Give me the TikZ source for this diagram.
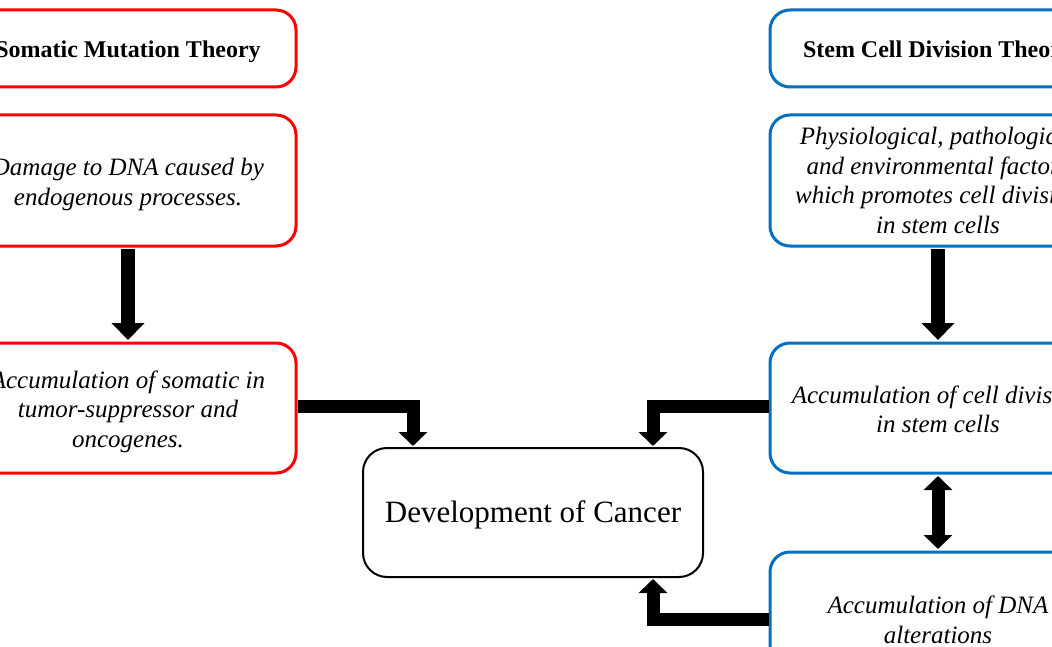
\documentclass[tikz,border=0pt]{standalone}
\usepackage{fontspec}
\setmainfont{Liberation Serif}
\usetikzlibrary{arrows.meta}
\definecolor{rbox}{RGB}{255,0,0}
\definecolor{bbox}{RGB}{0,112,192}
\newcommand{\lowr}[1]{\rule{0pt}{#1}}
\begin{document}
\begin{tikzpicture}[x=1pt,y=-1pt,
  boxbase/.style={rectangle,rounded corners=20pt,line width=3pt,align=center,inner sep=0pt,
     minimum width=336pt,font=\fontsize{25}{29.5}\selectfont\itshape},
  redbox/.style={boxbase,draw=rbox},
  bluebox/.style={boxbase,draw=bbox},
  titlefont/.style={font=\fontsize{24}{29}\selectfont\bfseries},
  centerbox/.style={rectangle,rounded corners=24pt,draw=black,line width=2pt,minimum width=340pt,
     minimum height=129pt,font=\fontsize{31}{37}\selectfont,inner sep=0pt},
  bigarrow/.style={line width=14pt,-{Triangle[width=32pt,length=17pt]}},
  elbowarrow/.style={line width=13pt,-{Triangle[width=28pt,length=14pt]}},
  dblarrow/.style={line width=13pt,{Triangle[width=28pt,length=14pt]}-{Triangle[width=28pt,length=14pt]}}
]
\useasboundingbox (0,0) rectangle (1052,647);
\clip (0,0) rectangle (1052,647);
\fill[white] (0,0) rectangle (1052,647);
% left column
\node[redbox,titlefont,minimum height=77pt] (rt) at (128,48.5) {\lowr{23pt}Somatic Mutation Theory};
\node[redbox,minimum height=131pt] (r2) at (128,180.5) {\lowr{25pt}Damage to DNA caused by\\endogenous processes.};
\node[redbox,minimum height=130pt] (r3) at (128,408) {\lowr{25pt}Accumulation of somatic in\\tumor-suppressor and\\oncogenes.};
% right column
\node[bluebox,titlefont,minimum height=77pt] (bt) at (938,48.5) {\lowr{23pt}Stem Cell Division Theory};
\node[bluebox,minimum height=131pt] (b2) at (938,180.5) {Physiological, pathological\\and environmental factors\\which promotes cell division\\in stem cells};
\node[bluebox,minimum height=130pt] (b3) at (938,408) {\lowr{20pt}Accumulation of cell division\\in stem cells};
\node[bluebox,minimum height=136pt] (b4) at (938,620) {Accumulation of DNA\\alterations};
% center
\node[centerbox] (c) at (533,512.5) {\lowr{26pt}Development of Cancer};
% connectors
\draw[bigarrow] ([yshift=-1.5pt]r2.south) -- ([yshift=1.5pt]r3.north);
\draw[bigarrow] ([yshift=-1.5pt]b2.south) -- ([yshift=1.5pt]b3.north);
\draw[dblarrow] ([yshift=-1.5pt]b3.south) -- ([yshift=1.5pt]b4.north);
\coordinate (cl) at ([xshift=-120pt,yshift=1pt]c.north);
\coordinate (cr) at ([xshift=120pt,yshift=1pt]c.north);
\coordinate (cb) at ([xshift=120pt,yshift=-1pt]c.south);
\draw[elbowarrow] (r3.east |- 0,406) -| (cl);
\draw[elbowarrow] (b3.west |- 0,406) -| (cr);
\draw[elbowarrow] (b4.west |- 0,619) -| (cb);
\end{tikzpicture}
\end{document}
